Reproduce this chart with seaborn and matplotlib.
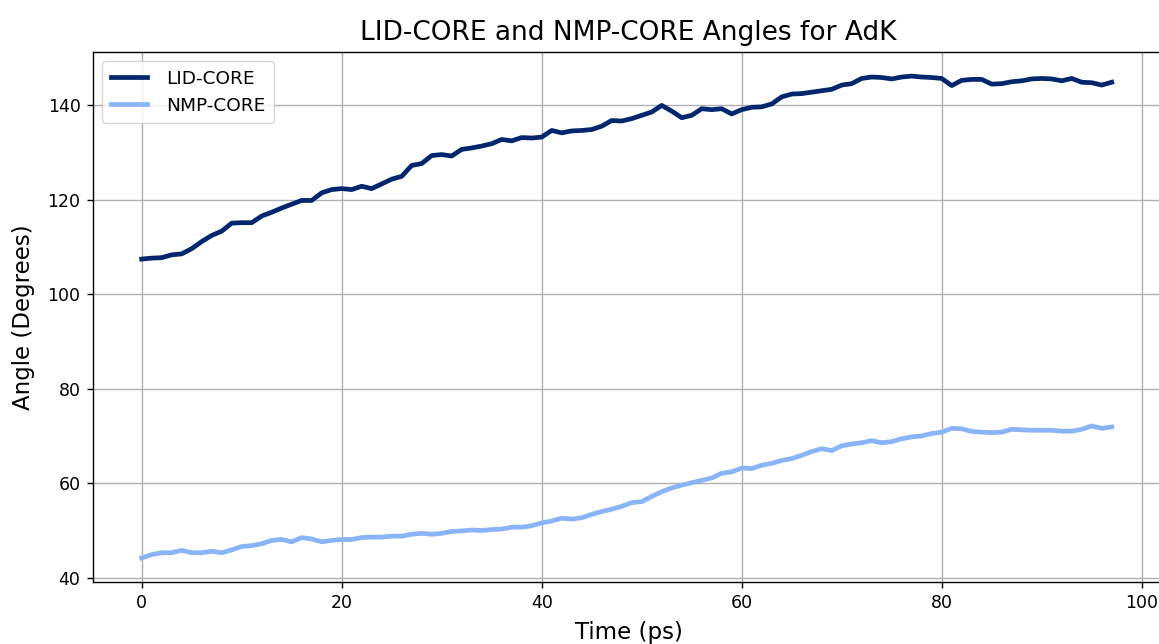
import matplotlib
matplotlib.use("Agg")
import matplotlib.pyplot as plt
import seaborn as sns
import pandas as pd

# Simulation time (ps)
time_ps = list(range(98))

# Inter-domain angles (degrees)
lid_core = [
    107.4, 107.6, 107.7, 108.3, 108.5, 109.6, 111.1, 112.4, 113.3, 115.0,
    115.1, 115.1, 116.5, 117.3, 118.2, 119.0, 119.8, 119.8, 121.4, 122.1,
    122.3, 122.1, 122.8, 122.3, 123.3, 124.3, 124.9, 127.2, 127.6, 129.3,
    129.5, 129.2, 130.6, 130.9, 131.3, 131.8, 132.7, 132.4, 133.1, 133.0,
    133.2, 134.6, 134.1, 134.5, 134.6, 134.8, 135.5, 136.7, 136.6, 137.1,
    137.8, 138.5, 139.9, 138.7, 137.3, 137.8, 139.2, 139.0, 139.2, 138.1,
    139.0, 139.5, 139.6, 140.2, 141.7, 142.3, 142.4, 142.7, 143.0, 143.3,
    144.2, 144.5, 145.6, 145.9, 145.8, 145.5, 145.9, 146.1, 145.9, 145.8,
    145.6, 144.1, 145.2, 145.4, 145.4, 144.4, 144.5, 144.9, 145.1, 145.5,
    145.6, 145.5, 145.1, 145.6, 144.8, 144.7, 144.2, 144.8,
]
nmp_core = [
    44.2, 44.9, 45.3, 45.3, 45.8, 45.3, 45.3, 45.6, 45.3, 45.9,
    46.6, 46.8, 47.2, 47.9, 48.1, 47.6, 48.5, 48.2, 47.6, 47.9,
    48.1, 48.1, 48.5, 48.6, 48.6, 48.8, 48.8, 49.2, 49.4, 49.2,
    49.4, 49.8, 49.9, 50.1, 50.0, 50.2, 50.3, 50.7, 50.7, 51.0,
    51.6, 52.0, 52.6, 52.4, 52.7, 53.4, 54.0, 54.5, 55.1, 55.9,
    56.1, 57.2, 58.2, 59.0, 59.6, 60.1, 60.6, 61.1, 62.1, 62.4,
    63.2, 63.1, 63.8, 64.2, 64.8, 65.2, 65.9, 66.7, 67.3, 66.9,
    67.9, 68.3, 68.55, 69.0, 68.55, 68.8, 69.4, 69.8, 70.0, 70.5,
    70.8, 71.6, 71.5, 70.95, 70.8, 70.7, 70.8, 71.4, 71.3, 71.2,
    71.2, 71.2, 71.0, 71.0, 71.4, 72.1, 71.6, 71.9,
]

series_names = ["LID-CORE", "NMP-CORE"]
series_colors = ["#00266e", "#8ab4f8"]

df = pd.DataFrame({"time": time_ps, "LID-CORE": lid_core, "NMP-CORE": nmp_core})

plt.rcParams.update({
    "font.family": ["DejaVu Sans"],
    "xtick.major.size": 4.5,
    "ytick.major.size": 4.5,
    "xtick.major.pad": 4.5,
    "ytick.major.pad": 4.5,
    "xtick.major.width": 1.0,
    "ytick.major.width": 1.0,
    "axes.linewidth": 1.0,
})

fig = plt.figure(figsize=(11.59, 6.44), dpi=100)
# axes runs slightly past the right edge of the canvas
ax = fig.add_axes([93 / 1159, 1 - 582 / 644, (1164 - 93) / 1159, (582 - 52) / 644])

for name, color in zip(series_names, series_colors):
    sns.lineplot(data=df, x="time", y=name, color=color, linewidth=3.4,
                 label=name, ax=ax)

ax.set_xlim(-4.87, 102.23)
ax.grid(True, color="#b0b0b0", linewidth=1.0)
ax.set_axisbelow(True)
ax.tick_params(labelsize=12.5)
ax.set_xticks([0, 20, 40, 60, 80, 100])
ax.set_yticks([40, 60, 80, 100, 120, 140])

ax.set_title("LID-CORE and NMP-CORE Angles for AdK", fontsize=19, pad=9)
ax.set_xlabel("Time (ps)", fontsize=16.5, labelpad=6)
ax.set_ylabel("Angle (Degrees)", fontsize=16.5, labelpad=9)

ax.legend(loc="upper left", fontsize=13.3, framealpha=0.8,
          handletextpad=1.0, borderpad=0.45)

fig.savefig("out.png", dpi=100)
